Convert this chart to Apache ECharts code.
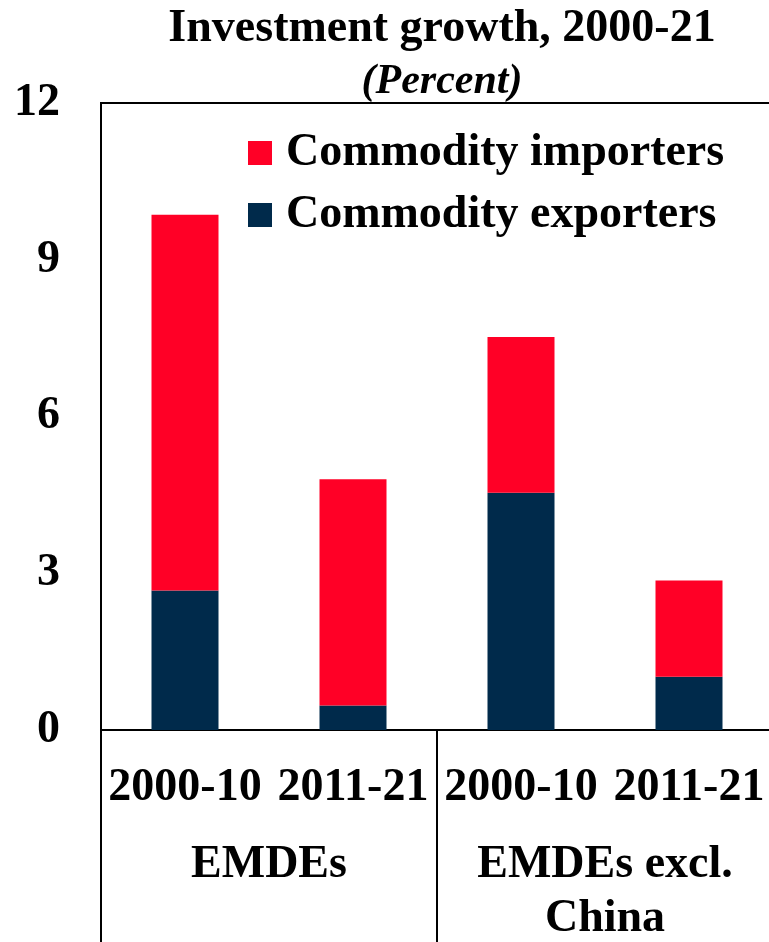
<!DOCTYPE html>
<html>
<head>
<meta charset="utf-8">
<script src="https://cdn.jsdelivr.net/npm/echarts@6/dist/echarts.min.js"></script>
<style>
  html, body { margin: 0; padding: 0; background: #ffffff; }
  #chart { width: 769px; height: 942px; }
</style>
</head>
<body>
<div id="chart"></div>
<script>
// Periods shown under each bar, and the country groups they belong to
const periods = ['2000-10', '2011-21', '2000-10', '2011-21'];
const groups = ['EMDEs', 'EMDEs excl.\nChina'];

// Contributions to investment growth, percentage points
const exporters = [2.67, 0.47, 4.54, 1.02];
const importers = [7.19, 4.33, 2.98, 1.84];

// Value axis ticks
const yTicks = [0, 3, 6, 9, 12];

const FONT = '"Liberation Serif", "Times New Roman", serif';
const RED = '#FF0026';
const NAVY = '#002A4B';

const chart = echarts.init(document.getElementById('chart'), null, { renderer: 'canvas' });

chart.setOption({
  animation: false,
  backgroundColor: '#ffffff',
  title: [
    {
      text: 'Investment growth, 2000-21',
      left: 437, top: 1, textAlign: 'center',
      textStyle: { fontFamily: FONT, fontWeight: 'bold', fontSize: 46, color: '#000' }
    },
    {
      text: '(Percent)',
      left: 437, top: 56, textAlign: 'center',
      textStyle: { fontFamily: FONT, fontWeight: 'bold', fontStyle: 'italic', fontSize: 42, color: '#000' }
    }
  ],
  legend: {
    orient: 'vertical',
    left: 248, top: 130, padding: 0,
    icon: 'rect', itemWidth: 24, itemHeight: 24, itemGap: 16,
    data: ['Commodity importers', 'Commodity exporters'],
    textStyle: {
      fontFamily: FONT, fontWeight: 'bold', fontSize: 46, color: '#000',
      lineHeight: 46, padding: [0, 0, 0, 9]
    }
  },
  grid: {
    left: 101, top: 103, width: 672, height: 627,
    show: true, borderColor: '#000', borderWidth: 2, backgroundColor: 'transparent',
    containLabel: false, outerBoundsMode: 'none'
  },
  xAxis: [
    {
      type: 'category', data: periods, position: 'bottom',
      axisLine: { show: true, lineStyle: { color: '#000', width: 2 } },
      axisTick: { show: false },
      axisLabel: {
        margin: 35, interval: 0, color: '#000',
        fontFamily: FONT, fontWeight: 'bold', fontSize: 46
      }
    },
    {
      type: 'category', data: groups, position: 'bottom',
      axisLine: { show: false },
      axisTick: { show: true, inside: false, length: 215, lineStyle: { color: '#000', width: 2 } },
      axisLabel: {
        margin: 108, interval: 0, color: '#000', lineHeight: 54,
        fontFamily: FONT, fontWeight: 'bold', fontSize: 46
      }
    }
  ],
  yAxis: {
    type: 'value', min: yTicks[0], max: yTicks[yTicks.length - 1], interval: 3,
    axisLine: { show: true, lineStyle: { color: '#000', width: 2 } },
    axisTick: { show: false },
    splitLine: { show: false },
    axisLabel: {
      margin: 41, color: '#000',
      fontFamily: FONT, fontWeight: 'bold', fontSize: 46
    }
  },
  series: [
    {
      name: 'Commodity exporters', type: 'bar', stack: 'total',
      xAxisIndex: 0, barWidth: 67, data: exporters,
      itemStyle: { color: NAVY }
    },
    {
      name: 'Commodity importers', type: 'bar', stack: 'total',
      xAxisIndex: 0, barWidth: 67, data: importers,
      itemStyle: { color: RED }
    }
  ]
});
</script>
</body>
</html>
